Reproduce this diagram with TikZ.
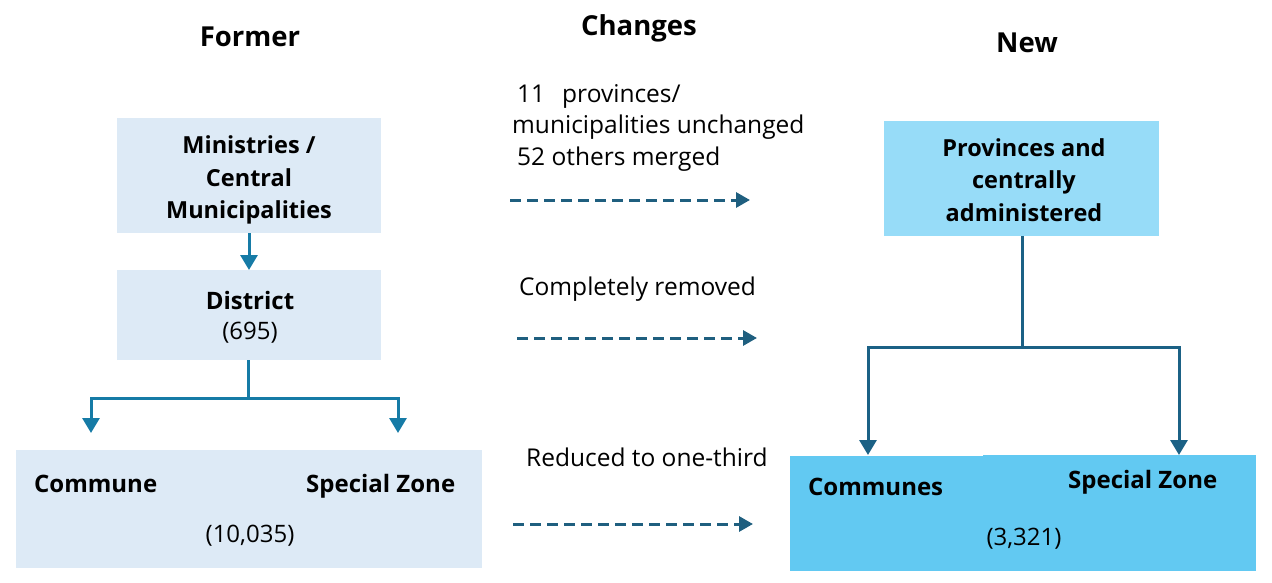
\documentclass[tikz,border=0pt]{standalone}
\usepackage{fontspec}
\setmainfont{Open Sans}
\usetikzlibrary{arrows.meta}
\definecolor{paleblue}{HTML}{DDEAF6}
\definecolor{midblue}{HTML}{97DCF8}
\definecolor{skyblue}{HTML}{62C9F2}
\definecolor{arrleft}{HTML}{167BA6}
\definecolor{arrright}{HTML}{1B6185}
\definecolor{dashcol}{HTML}{1F5F7F}
\tikzset{
  box/.style={fill=#1, draw=none, inner sep=0pt, align=center, font=\fontsize{23.5}{32.5}\selectfont\bfseries},
  title/.style={font=\fontsize{27.5}{30}\selectfont\bfseries, inner sep=0pt},
  lbl/.style={font=\fontsize{24.5}{31.5}\selectfont, inner sep=0pt, align=left},
  blbl/.style={font=\fontsize{24}{26}\selectfont\bfseries, inner sep=0pt},
  nlbl/.style={font=\fontsize{24}{26}\selectfont, inner sep=0pt},
  tree/.style={line width=3pt, draw=#1},
  treearr/.style={line width=3pt, draw=#1, -{Triangle[width=17pt,length=15pt,fill=#1]}},
  dasharr/.style={line width=3pt, draw=dashcol, dash pattern=on 11pt off 6pt, -{Triangle[width=15pt,length=14pt,fill=dashcol]}}
}
\begin{document}
\begin{tikzpicture}[x=1pt,y=-1pt]
\useasboundingbox (0,0) rectangle (1272,583);
% titles
\node[title] (tformer) at (250,37) {Former};
\node[title] (tchanges) at (639,28) {Changes};
\node[title] (tnew) at (1027,43) {New};
% left column
\node[box=paleblue, minimum width=264pt, minimum height=115pt] (min) at (249,175.5) {};
\node[box=paleblue, fill=none] (mint) at (249,180) {Ministries /\\Central\\Municipalities};
\node[box=paleblue, minimum width=264pt, minimum height=90pt, anchor=north] (dist) at (249,270) {};
\node[blbl] (distt) at (250,300) {District};
\node[nlbl] (distn) at (250,333) {(695)};
\node[box=paleblue, minimum width=466pt, minimum height=118pt, anchor=north west] (comm) at (16,450) {};
\node[blbl, anchor=west] (commt) at (34,484) {Commune};
\node[blbl, anchor=west] (specl) at (306,486) {Special Zone};
\node[nlbl] (commn) at (250,536) {(10,035)};
\draw[treearr=arrleft] (min.south) -- (dist.north);
\coordinate (jl) at (248,398);
\coordinate (fl) at (91,433);
\coordinate (fr) at (398,433);
\draw[tree=arrleft] (dist.south -| jl) -- (jl);
\draw[treearr=arrleft] (jl) -| (fl);
\draw[treearr=arrleft] (jl) -| (fr);
% middle
\node[lbl, anchor=north west] (ch1) at (512,84) {\hspace*{5pt}11\hspace{17pt}provinces/\\municipalities unchanged\\\hspace*{5pt}52 others merged};
\coordinate (d1s) at (510,200);
\coordinate (d1e) at (750,200);
\draw[dasharr] (d1s) -- (d1e);
\node[lbl, anchor=west] (ch2) at (519,289) {Completely removed};
\coordinate (d2s) at (517,338);
\coordinate (d2e) at (757,338);
\draw[dasharr] (d2s) -- (d2e);
\node[lbl, anchor=west] (ch3) at (526,457) {Reduced to one-third};
\coordinate (d3s) at (513,524);
\coordinate (d3e) at (753,524);
\draw[dasharr] (d3s) -- (d3e);
% right column
\node[box=midblue, minimum width=275pt, minimum height=115pt] (prov) at (1021.5,178.5) {};
\node[box=midblue, fill=none] (provt) at (1024,180) {Provinces and\\centrally\\administered};
\node[box=skyblue, minimum width=466pt, minimum height=115pt, anchor=north west] (comr) at (790,456) {};
\node[box=skyblue, minimum width=273pt, minimum height=116pt, anchor=north west] (comr2) at (983,455) {};
\node[blbl, anchor=west] (commst) at (808,487) {Communes};
\node[blbl, anchor=west] (specr) at (1068,482) {Special Zone};
\node[nlbl] (comrn) at (1024,539) {(3,321)};
\coordinate (jr) at (1022,347);
\coordinate (rl) at (868,455);
\coordinate (rr) at (1179,455);
\draw[tree=arrright] (prov.south -| jr) -- (jr);
\draw[treearr=arrright] (jr) -| (rl);
\draw[treearr=arrright] (jr) -| (rr);
\end{tikzpicture}
\end{document}
